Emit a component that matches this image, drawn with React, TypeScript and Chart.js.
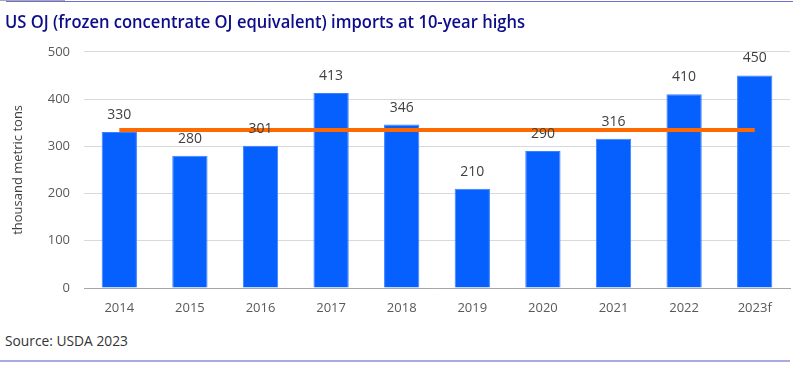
import React, { useEffect, useRef } from "react";
import { Chart, registerables } from "chart.js";

Chart.register(...registerables);

const categories = ["2014", "2015", "2016", "2017", "2018", "2019", "2020", "2021", "2022", "2023f"];
const imports = [330, 280, 301, 413, 346, 210, 290, 316, 410, 450];
const averageLevel = [334.6, 334.6, 334.6, 334.6, 334.6, 334.6, 334.6, 334.6, 334.6, 334.6];
const yTicks = [0, 100, 200, 300, 400, 500];

const FONT = "'Open Sans', 'Noto Sans', sans-serif";

const labelPlugin = {
  id: "barLabels",
  afterDatasetsDraw(chart: any) {
    const ctx = chart.ctx;
    const meta = chart.getDatasetMeta(0);
    ctx.save();
    ctx.font = `14px ${FONT}`;
    ctx.fillStyle = "#404040";
    ctx.textAlign = "center";
    ctx.textBaseline = "middle";
    meta.data.forEach((bar: any, i: number) => {
      ctx.fillText(String(imports[i]), bar.x, bar.y - 17);
    });
    ctx.restore();
  },
};

export default function App() {
  const ref = useRef<HTMLCanvasElement | null>(null);
  useEffect(() => {
    if (!ref.current) return;
    const chart = new Chart(ref.current, {
      type: "bar",
      data: {
        labels: categories,
        datasets: [
          {
            type: "bar",
            data: imports,
            backgroundColor: "#0660FE",
            borderColor: "#3C80FF",
            borderWidth: 1,
            barPercentage: 0.5,
            categoryPercentage: 1,
            order: 1,
          },
          {
            type: "line",
            data: averageLevel,
            borderColor: "#FF6A00",
            borderWidth: 4,
            pointRadius: 0,
            fill: false,
            order: 0,
          } as any,
        ],
      },
      options: {
        animation: false,
        responsive: false,
        devicePixelRatio: 1,
        layout: { padding: { top: 2, right: 3, left: 0, bottom: 0 } },
        plugins: { legend: { display: false }, tooltip: { enabled: false } },
        scales: {
          x: {
            grid: { display: false, drawTicks: false },
            border: { display: true, color: "#A6A6A6", width: 1 },
            ticks: { padding: 12, color: "#595959", font: { family: FONT, size: 13 } },
            afterFit: (s: any) => { s.height = 37; },
          },
          y: {
            min: 0,
            max: 500,
            afterBuildTicks: (s: any) => { s.ticks = yTicks.map((v) => ({ value: v })); },
            grid: { color: "#D9D9D9", drawTicks: false },
            border: { display: false },
            ticks: { padding: 14, color: "#595959", font: { family: FONT, size: 13 } },
            title: {
              display: true,
              text: "thousand metric tons",
              color: "#404040",
              font: { family: FONT, size: 13 },
              padding: { top: 10, bottom: 0 },
            },
            afterFit: (s: any) => { s.width = 84; },
          },
        },
      },
      plugins: [labelPlugin],
    });
    return () => chart.destroy();
  }, []);

  return (
    <div style={{ position: "fixed", left: 0, top: 0, width: 793, height: 365, background: "#fff", overflow: "hidden" }}>
      <canvas ref={ref} width={793} height={295} style={{ position: "absolute", left: 0, top: 30 }} />
      <div style={{ position: "absolute", left: 0, top: 0, width: 65, height: 1, background: "#A8A8A8" }} />
      <div style={{ position: "absolute", left: 6, top: 1, width: 787, height: 1, background: "#6E6ED8" }} />
      <div
        style={{
          position: "absolute",
          left: 5,
          top: 8,
          fontFamily: FONT,
          fontWeight: 600,
          fontSize: 18.5,
          color: "#0D0D8C",
          whiteSpace: "nowrap",
          transformOrigin: "left top",
          transform: "scaleX(0.895)",
        }}
      >
        US OJ (frozen concentrate OJ equivalent) imports at 10-year highs
      </div>
      <div
        style={{
          position: "absolute",
          left: 5,
          top: 331,
          fontFamily: FONT,
          fontSize: 14,
          color: "#333",
          whiteSpace: "nowrap",
          transformOrigin: "left top",
          transform: "scaleX(0.985)",
        }}
      >
        Source: USDA 2023
      </div>
      <div style={{ position: "absolute", left: 0, top: 360, width: 790, height: 2, background: "#A9A9E3" }} />
    </div>
  );
}
